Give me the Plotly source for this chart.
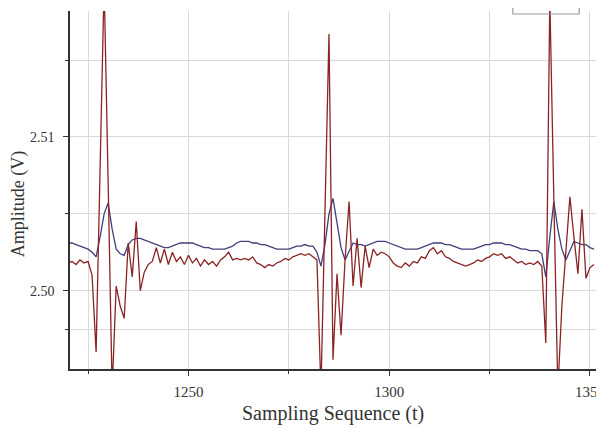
import plotly.graph_objects as go

t_start = 1220
red = [
    2.5018, 2.5019, 2.5017, 2.5020, 2.5018, 2.5019, 2.5010, 2.4960, 2.5080, 2.5200,  # 1220-1229
    2.5070, 2.4935, 2.5003, 2.4990, 2.4982, 2.5031, 2.5009, 2.5045, 2.5000, 2.5012,  # 1230-1239
    2.5017, 2.5019, 2.5028, 2.5018, 2.5027, 2.5017, 2.5025, 2.5019, 2.5022, 2.5017,  # 1240-1249
    2.5023, 2.5018, 2.5021, 2.5016, 2.5020, 2.5017, 2.5019, 2.5016, 2.5020, 2.5022,  # 1250-1259
    2.5025, 2.5020, 2.5021, 2.5020, 2.5021, 2.5020, 2.5022, 2.5018, 2.5017, 2.5015,  # 1260-1269
    2.5017, 2.5016, 2.5018, 2.5019, 2.5021, 2.5020, 2.5022, 2.5023, 2.5024, 2.5023,  # 1270-1279
    2.5024, 2.5022, 2.5020, 2.4935, 2.5050, 2.5167, 2.4955, 2.5011, 2.4971, 2.5020,  # 1280-1289
    2.5058, 2.5003, 2.5034, 2.5002, 2.5029, 2.5015, 2.5027, 2.5023, 2.5025, 2.5024,  # 1290-1299
    2.5022, 2.5018, 2.5016, 2.5015, 2.5018, 2.5016, 2.5019, 2.5018, 2.5022, 2.5021,  # 1300-1309
    2.5026, 2.5028, 2.5024, 2.5026, 2.5022, 2.5021, 2.5019, 2.5018, 2.5017, 2.5016,  # 1310-1319
    2.5017, 2.5018, 2.5020, 2.5019, 2.5021, 2.5022, 2.5024, 2.5023, 2.5024, 2.5021,  # 1320-1329
    2.5022, 2.5020, 2.5018, 2.5019, 2.5017, 2.5018, 2.5017, 2.5019, 2.5016, 2.4966,  # 1330-1339
    2.5190, 2.5060, 2.4935, 2.4990, 2.5025, 2.5061, 2.5035, 2.5011, 2.5053, 2.5008,  # 1340-1349
    2.5015, 2.5017,                                                                  # 1350-1351
]
blue = [
    2.5031, 2.5031, 2.5030, 2.5029, 2.5028, 2.5027, 2.5025, 2.5022, 2.5035, 2.5050,  # 1220-1229
    2.5057, 2.5040, 2.5027, 2.5024, 2.5023, 2.5030, 2.5033, 2.5034, 2.5034, 2.5033,  # 1230-1239
    2.5032, 2.5031, 2.5030, 2.5029, 2.5028, 2.5028, 2.5029, 2.5030, 2.5031, 2.5031,  # 1240-1249
    2.5031, 2.5031, 2.5030, 2.5029, 2.5028, 2.5028, 2.5027, 2.5027, 2.5027, 2.5027,  # 1250-1259
    2.5028, 2.5029, 2.5031, 2.5032, 2.5032, 2.5032, 2.5031, 2.5031, 2.5030, 2.5030,  # 1260-1269
    2.5029, 2.5028, 2.5027, 2.5027, 2.5027, 2.5027, 2.5028, 2.5029, 2.5029, 2.5030,  # 1270-1279
    2.5029, 2.5029, 2.5025, 2.5016, 2.5030, 2.5050, 2.5060, 2.5045, 2.5028, 2.5020,  # 1280-1289
    2.5025, 2.5031, 2.5030, 2.5030, 2.5029, 2.5030, 2.5031, 2.5032, 2.5032, 2.5032,  # 1290-1299
    2.5031, 2.5030, 2.5029, 2.5028, 2.5027, 2.5027, 2.5027, 2.5027, 2.5028, 2.5029,  # 1300-1309
    2.5030, 2.5031, 2.5031, 2.5031, 2.5030, 2.5030, 2.5029, 2.5028, 2.5027, 2.5027,  # 1310-1319
    2.5027, 2.5027, 2.5028, 2.5029, 2.5030, 2.5030, 2.5031, 2.5031, 2.5031, 2.5030,  # 1320-1329
    2.5030, 2.5029, 2.5028, 2.5027, 2.5027, 2.5026, 2.5026, 2.5026, 2.5024, 2.5009,  # 1330-1339
    2.5035, 2.5058, 2.5040, 2.5027, 2.5020, 2.5026, 2.5032, 2.5031, 2.5030, 2.5030,  # 1340-1349
    2.5028, 2.5027,                                                                  # 1350-1351
]
t = list(range(t_start, t_start + len(red)))

x_ticks = [1250, 1300, 1350]
x_minor = [1225, 1275, 1325]
y_ticks = [2.50, 2.51]
y_tick_labels = ["2.50", "2.51"]
y_minor = [2.4975, 2.505, 2.515]

x_title = "Sampling Sequence (t)"
y_title = "Amplitude (V)"

fig = go.Figure()
fig.add_trace(go.Scatter(x=t, y=blue, mode="lines", line=dict(color="#3f3f7c", width=1.3), name="blue"))
fig.add_trace(go.Scatter(x=t, y=red, mode="lines", line=dict(color="#8a2424", width=1.3), name="red"))

font = "Liberation Serif, Times New Roman, serif"
grid = "#d9d9d9"
axis_common = dict(
    ticks="outside", ticklen=5, tickcolor="#333", showgrid=True, gridcolor=grid,
    showline=True, linecolor="#333", linewidth=1.5, zeroline=False, automargin=False,
    ticklabeloverflow="allow",
)
fig.update_layout(
    width=596, height=420,
    margin=dict(l=62, r=8, t=3, b=59, autoexpand=False),
    paper_bgcolor="white", plot_bgcolor="white",
    showlegend=False,
    font=dict(family=font, size=14, color="#333333"),
    xaxis=dict(
        range=[1220.5, 1351.5], tickmode="array", tickvals=x_ticks,
        minor=dict(tickmode="array", tickvals=x_minor, ticks="outside", ticklen=3,
                   tickcolor="#333", showgrid=True, gridcolor=grid),
        tickfont=dict(size=15, family=font), ticklabelstandoff=3,
        **axis_common,
    ),
    yaxis=dict(
        range=[2.4949, 2.5182], tickmode="array", tickvals=y_ticks, ticktext=y_tick_labels,
        minor=dict(tickmode="array", tickvals=y_minor, ticks="outside", ticklen=3,
                   tickcolor="#333", showgrid=True, gridcolor=grid),
        tickfont=dict(size=14, family=font), ticklabelstandoff=6,
        **axis_common,
    ),
    annotations=[
        dict(text=x_title, xref="paper", yref="paper", x=0.5, y=-0.125,
             xanchor="center", yanchor="middle", showarrow=False,
             font=dict(size=20, family=font, color="#333")),
        dict(text=y_title, xref="paper", yref="paper", x=-0.099, y=0.46,
             xanchor="center", yanchor="middle", showarrow=False, textangle=-90,
             font=dict(size=18, family=font, color="#333")),
    ],
)
# partially visible legend box at the top right
fig.add_shape(type="rect", xref="paper", yref="paper", x0=0.842, x1=0.968, y0=0.9916, y1=1.2,
              line=dict(color="#999999", width=1.2), fillcolor="rgba(0,0,0,0)", layer="above")

fig.write_html("out.html")
